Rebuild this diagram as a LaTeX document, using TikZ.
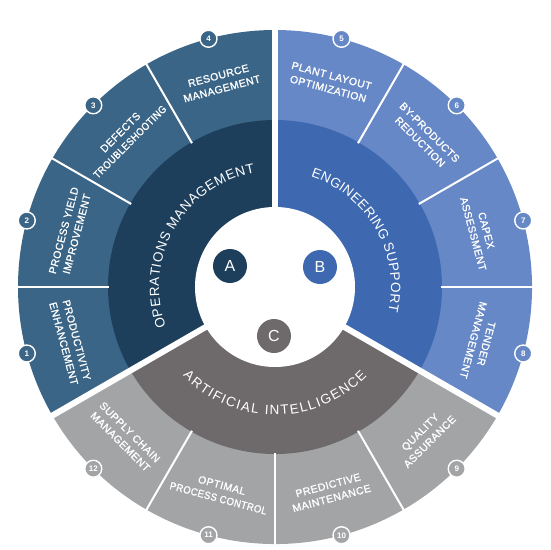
\documentclass[tikz,border=0pt]{standalone}
\usepackage{fontspec}
\setmainfont{Liberation Sans}
\newfontfamily\labelfont[FakeBold=1.2]{Liberation Sans}
\usetikzlibrary{decorations.text}

\definecolor{opsdark}{HTML}{1D3F5C}
\definecolor{opslight}{HTML}{3B6586}
\definecolor{engdark}{HTML}{3E69B1}
\definecolor{englight}{HTML}{6788C6}
\definecolor{aidark}{HTML}{6E696A}
\definecolor{ailight}{HTML}{A3A4A6}

\begin{document}
\begin{tikzpicture}[x=1pt, y=1pt,
	numdot/.style={circle, draw=white, line width=1.4pt, minimum size=17pt, inner sep=0pt, text=white, font=\fontsize{8}{8}\selectfont\bfseries},
	sublabel/.style={align=center, text=white, font=\labelfont\fontsize{10.5}{13.5}\selectfont\addfontfeature{LetterSpace=4}},
	letterdot/.style={circle, minimum size=34pt, inner sep=0pt, text=white, font=\fontsize{16}{16}\selectfont},
	ringtext/.style={decorate, decoration={text along path, text color=white, text align=fit to path, text={|\fontsize{13.5}{13.5}\selectfont|#1}}}]
	\useasboundingbox (-275,-263) rectangle (275,287);
	% the three sectors, outer ring then inner ring
	\foreach \a/\co/\ci in {90/opslight/opsdark, -30/englight/engdark, 210/ailight/aidark}{
		\fill [\co] (0,0) -- (\a:257) arc[start angle=\a, delta angle=120, radius=257] -- cycle;
		\fill [\ci] (0,0) -- (\a:167) arc[start angle=\a, delta angle=120, radius=167] -- cycle;
	}
	\fill [white] (0,0) circle[radius=80];
	\foreach \a in {90,210,330}
		\draw [white, line width=6pt] (0,0) -- (\a:262);
	\foreach \a in {0,30,60,120,150,180,240,270,300}
		\draw [white, line width=2pt] (\a:166) -- (\a:260);
	% ring titles
	\path [ringtext=OPERATIONS MANAGEMENT] (200:116) arc[start angle=200, end angle=100, radius=116];
	\path [ringtext=ENGINEERING SUPPORT] (72:116) arc[start angle=72, end angle=-12, radius=116];
	\path [ringtext=ARTIFICIAL INTELLIGENCE] (224:128) arc[start angle=224, end angle=316, radius=128];
	% outer labels
	\foreach \i/\rot/\txt in {1/-75/{PRODUCTIVITY\\ENHANCEMENT}, 2/75/{PROCESS YIELD\\IMPROVEMENT},
		3/45/{DEFECTS\\\scalebox{0.88}[1]{TROUBLESHOOTING}}, 4/15/{RESOURCE\\MANAGEMENT},
		5/-15/{PLANT LAYOUT\\OPTIMIZATION}, 6/-45/{BY-PRODUCTS\\REDUCTION},
		7/-75/{CAPEX\\ASSESSMENT}, 8/-105/{TENDER\\MANAGEMENT},
		9/45/{QUALITY\\ASSURANCE}, 10/15/{PREDICTIVE\\MAINTENANCE},
		11/-15/{OPTIMAL\\\scalebox{0.9}[1]{PROCESS CONTROL}}, 12/-45/{SUPPLY CHAIN\\MANAGEMENT}}{
		\node [sublabel, rotate=\rot] (lab\i) at ({225-30*\i}:212) {\txt};
	}
	\foreach \i/\col in {1/opslight, 2/opslight, 3/opslight, 4/opslight,
		5/englight, 6/englight, 7/englight, 8/englight,
		9/ailight, 10/ailight, 11/ailight, 12/ailight}{
		\node [numdot, fill=\col] (num\i) at ({225-30*\i}:257) {\i};
	}
	% centre letters
	\node [letterdot, fill=opsdark] (secA) at (-45,21) {A};
	\node [letterdot, fill=engdark] (secB) at (45,20) {B};
	\node [letterdot, fill=aidark] (secC) at (-1,-49) {C};
\end{tikzpicture}
\end{document}
